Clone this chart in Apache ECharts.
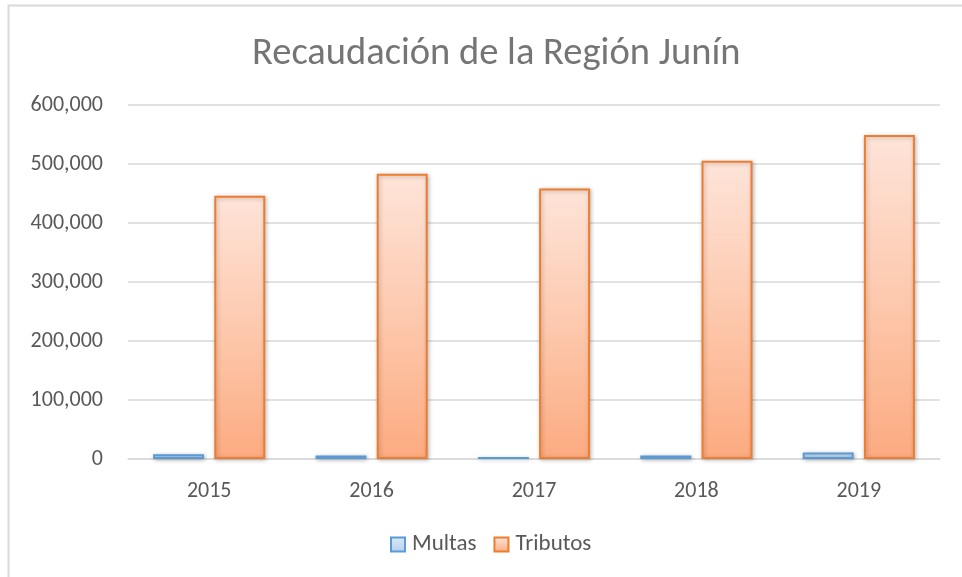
<!DOCTYPE html>
<html>
<head>
<meta charset="utf-8">
<script src="https://cdn.jsdelivr.net/npm/echarts@6/dist/echarts.min.js"></script>
<style>
  html, body { margin: 0; padding: 0; background: #fff; }
  #main { width: 962px; height: 577px; }
</style>
</head>
<body>
<div id="main"></div>
<script>
'use strict'

// años y montos recaudados
const years = ['2015', '2016', '2017', '2018', '2019'];
const multas = [8000, 6000, 3500, 6000, 11000];
const tributos = [446000, 483500, 458500, 505500, 549000];
const yTicks = [0, 100000, 200000, 300000, 400000, 500000, 600000];

const font = 'Carlito, "Open Sans", "Noto Sans", sans-serif';

let myChart = echarts.init(document.getElementById('main'));

myChart.setOption({
    backgroundColor: '#fff',
    animation: false,
    title: {
        text: 'Recaudación de la Región Junín',
        left: 247,
        top: 30,
        textStyle: {
            color: '#757575',
            fontFamily: font,
            fontWeight: 'normal',
            fontSize: 38.5
        }
    },
    graphic: [{
        type: 'rect',
        shape: { x: 8.5, y: 5.5, width: 980, height: 600 },
        style: { fill: 'none', stroke: '#d9d9d9', lineWidth: 2 },
        silent: true
    }],
    legend: {
        bottom: 16,
        left: 385,
        icon: 'rect',
        itemWidth: 14,
        itemHeight: 14,
        itemGap: 17,
        data: ['Multas', 'Tributos'],
        textStyle: { color: '#595959', fontFamily: font, fontSize: 23, padding: [0, 0, 0, 2] }
    },
    grid: {
        left: 128,
        right: 22,
        top: 105,
        bottom: 118
    },
    xAxis: {
        type: 'category',
        data: years,
        axisLine: { lineStyle: { color: '#d9d9d9', width: 1.5 } },
        axisTick: { show: false },
        axisLabel: { color: '#595959', fontFamily: font, fontSize: 22, margin: 21 }
    },
    yAxis: {
        type: 'value',
        min: yTicks[0],
        max: yTicks[yTicks.length - 1],
        interval: 100000,
        axisLine: { show: false },
        axisTick: { show: false },
        splitLine: { lineStyle: { color: '#d9d9d9', width: 1.5 } },
        axisLabel: {
            color: '#595959',
            fontFamily: font,
            fontSize: 22,
            margin: 25,
            formatter: v => v.toLocaleString('en-US')
        }
    },
    series: [{
        name: 'Multas',
        type: 'bar',
        data: multas,
        barWidth: 51,
        barGap: '20%',
        itemStyle: {
            color: new echarts.graphic.LinearGradient(0, 0, 0, 1, [
                { offset: 0, color: '#dce9f7' },
                { offset: 1, color: '#b4d1ef' }
            ]),
            borderColor: '#5b9bd5',
            borderWidth: 2,
            shadowBlur: 4,
            shadowColor: 'rgba(0,0,0,0.25)',
            shadowOffsetX: 1,
            shadowOffsetY: 1
        }
    }, {
        name: 'Tributos',
        type: 'bar',
        data: tributos,
        barWidth: 51,
        itemStyle: {
            color: new echarts.graphic.LinearGradient(0, 0, 0, 1, [
                { offset: 0, color: '#fee4d9' },
                { offset: 0.5, color: '#fdc9ae' },
                { offset: 1, color: '#fcab80' }
            ]),
            borderColor: '#ed7d31',
            borderWidth: 2,
            shadowBlur: 4,
            shadowColor: 'rgba(0,0,0,0.25)',
            shadowOffsetX: 1,
            shadowOffsetY: 1
        }
    }]
});
</script>
</body>
</html>
